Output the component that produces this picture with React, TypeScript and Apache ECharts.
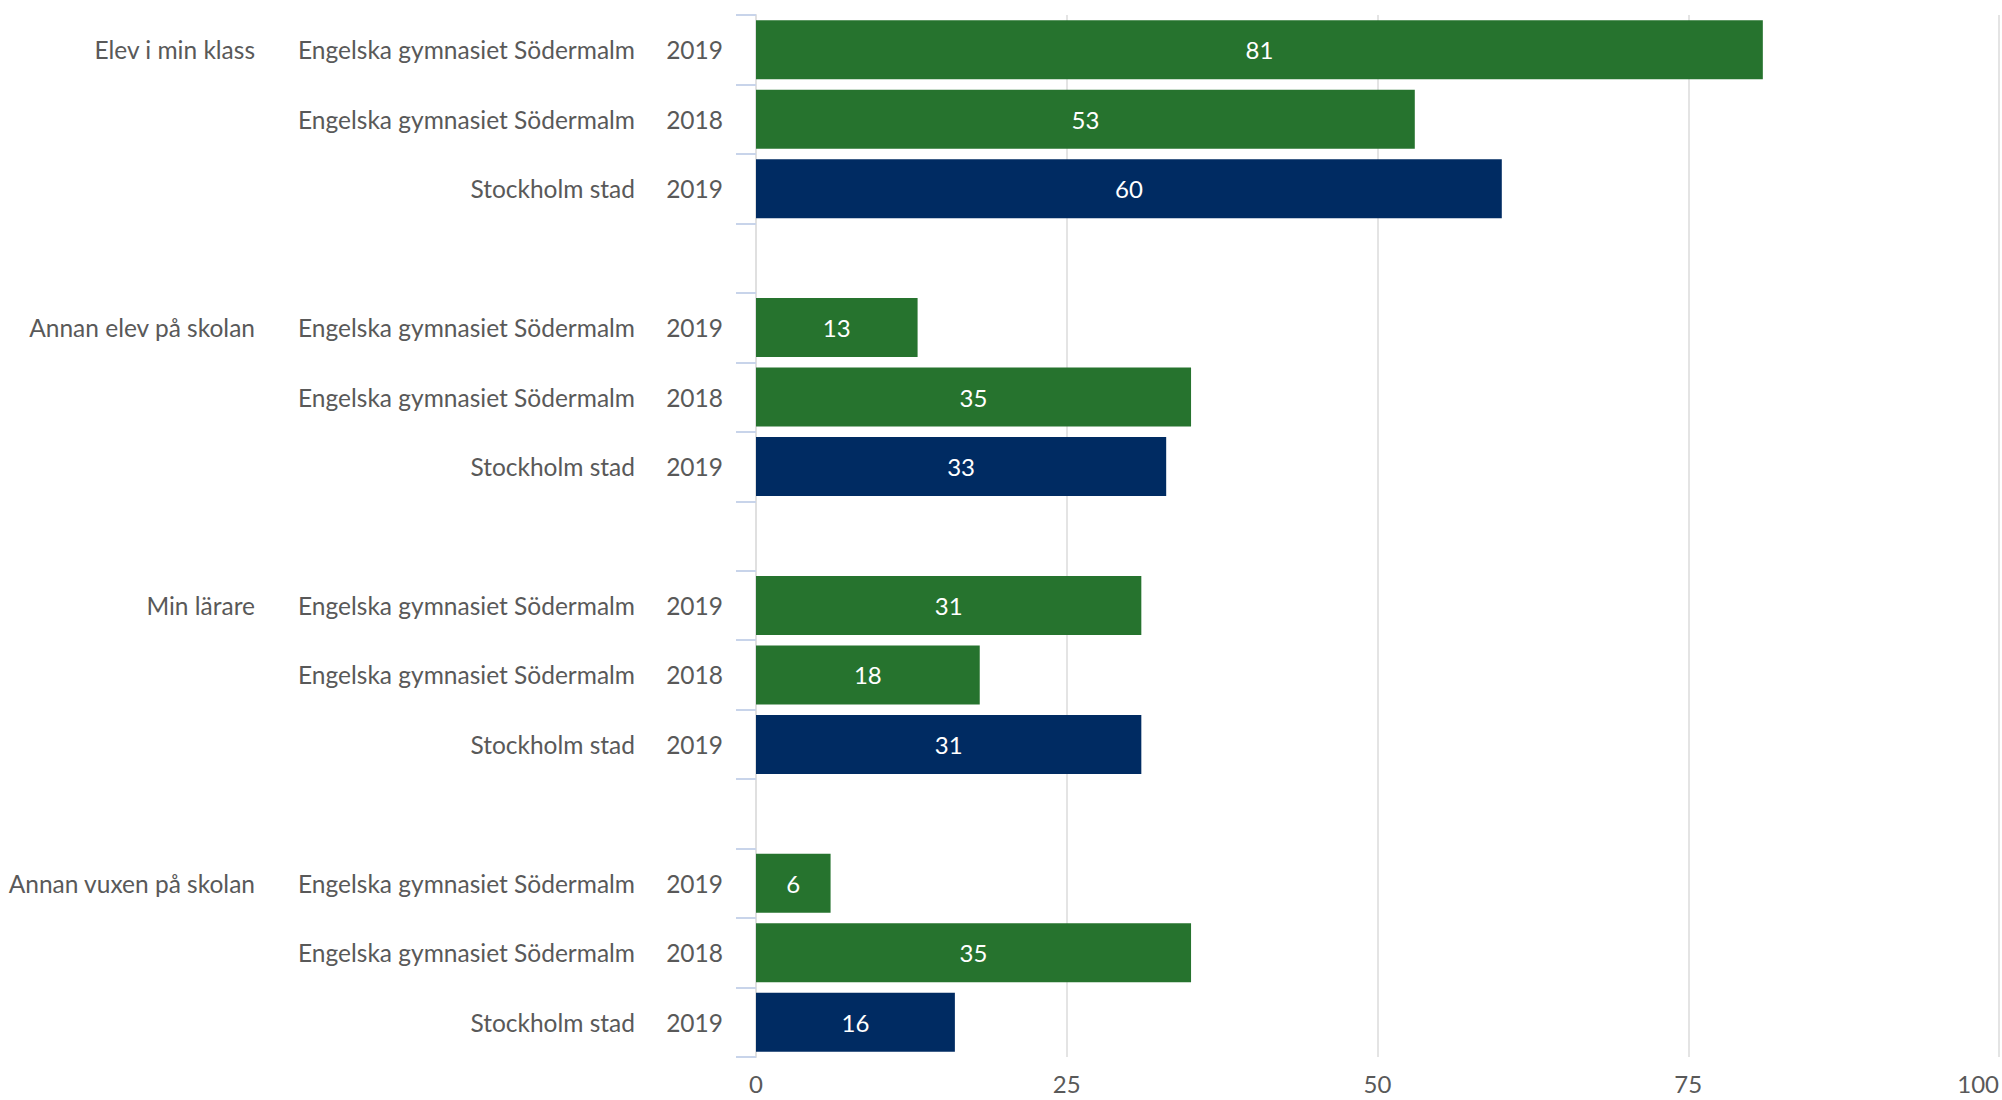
import React, { useEffect, useRef } from "react";
import * as echarts from "echarts";

const groupNames = ["Elev i min klass", "Annan elev på skolan", "Min lärare", "Annan vuxen på skolan"];
const unitNames = ["Engelska gymnasiet Södermalm", "Engelska gymnasiet Södermalm", "Stockholm stad"];
const yearLabels = ["2019", "2018", "2019"];
const school2019 = [81, 13, 31, 6];
const school2018 = [53, 35, 18, 35];
const stockholm2019 = [60, 33, 31, 16];
const xTicks = [0, 25, 50, 75, 100];

const GREEN = "#26732e";
const NAVY = "#002b62";
const TEXT = "#595959";
const FONT = "Lato";

type Row = { group: string; unit: string; year: string; value: number | null; color: string };

function buildRows(): Row[] {
  const rows: Row[] = [];
  groupNames.forEach((g, gi) => {
    const vals = [school2019[gi], school2018[gi], stockholm2019[gi]];
    vals.forEach((v, ri) => {
      rows.push({
        group: ri === 0 ? g : "",
        unit: unitNames[ri],
        year: yearLabels[ri],
        value: v,
        color: ri === 2 ? NAVY : GREEN,
      });
    });
    if (gi < groupNames.length - 1) {
      rows.push({ group: "", unit: "", year: "", value: null, color: GREEN });
    }
  });
  return rows;
}

export default function App() {
  const ref = useRef<HTMLDivElement>(null);
  useEffect(() => {
    if (!ref.current) return;
    const chart = echarts.init(ref.current, undefined, { renderer: "svg" });
    const rows = buildRows();
    const keys = rows.map((_, i) => String(i));
    const baseLabel = { fontFamily: FONT, fontSize: 24.5, color: TEXT };
    const mkAxis = (margin: number, field: "group" | "unit" | "year", main: boolean) => ({
      type: "category",
      data: keys,
      inverse: true,
      position: "left",
      axisLine: main ? { show: true, lineStyle: { color: "#e0e0e0", width: 2 } } : { show: false },
      axisTick: main
        ? { show: true, length: 20, interval: 0, lineStyle: { color: "#c8d4ea", width: 2 } }
        : { show: false },
      splitLine: { show: false },
      axisLabel: {
        ...baseLabel,
        interval: 0,
        margin,
        formatter: (v: string) => rows[Number(v)][field],
      },
    });
    chart.setOption({
      animation: false,
      grid: { left: 756, right: 1, top: 15, bottom: 43, containLabel: false },
      xAxis: {
        type: "value",
        min: xTicks[0],
        max: xTicks[xTicks.length - 1],
        interval: 25,
        axisLine: { show: false },
        axisTick: { show: false },
        splitLine: { show: true, lineStyle: { color: "#e4e4e4", width: 2 } },
        axisLabel: { ...baseLabel, fontSize: 24, margin: 14, alignMaxLabel: "right" },
      },
      yAxis: [mkAxis(33, "year", true), mkAxis(121, "unit", false), mkAxis(501, "group", false)],
      series: [
        {
          type: "bar",
          yAxisIndex: 0,
          barCategoryGap: "15%",
          data: rows.map((r) => (r.value === null ? "-" : { value: r.value, itemStyle: { color: r.color } })),
          label: {
            show: true,
            position: "inside",
            color: "#ffffff",
            fontFamily: FONT,
            fontSize: 24,
          },
        },
      ],
    });
    return () => chart.dispose();
  }, []);
  return (
    <div
      ref={ref}
      style={{ position: "absolute", left: 0, top: 0, width: 2002, height: 1100, background: "#fff" }}
    />
  );
}
